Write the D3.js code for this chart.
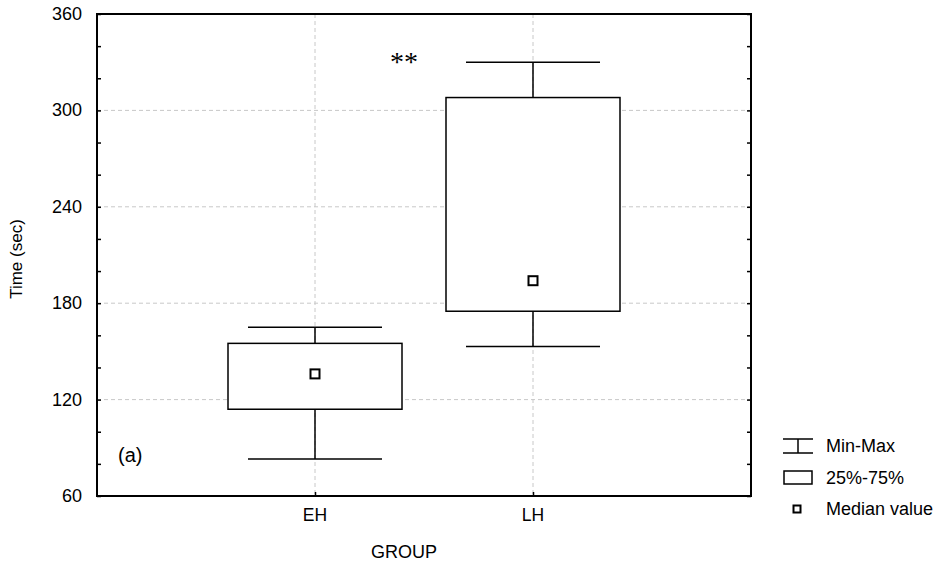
<!DOCTYPE html>
<html lang="en">
<head>
    <meta charset="UTF-8">
    <script src="https://cdnjs.cloudflare.com/ajax/libs/d3/7.8.5/d3.min.js"></script>
    <style>
        body { margin: 0; background: #fff; }
        text { font-family: "Liberation Sans", Arial, sans-serif; fill: #000; }
    </style>
</head>
<body>
    <script>
        // box plot values
        var groups = ["EH", "LH"];
        var minVals = [83, 153];
        var q1Vals = [114, 175];
        var medVals = [136, 194];
        var q3Vals = [155, 308];
        var maxVals = [165, 330];
        var yTicks = [60, 120, 180, 240, 300, 360];

        var data = groups.map(function(g, i) {
            return { group: g, min: minVals[i], q1: q1Vals[i], med: medVals[i], q3: q3Vals[i], max: maxVals[i] };
        });

        var svgwidth = 945, svgheight = 565;
        var pLeft = 97, pRight = 751, pTop = 14, pBottom = 496;

        var svg = d3.select("body").append("svg")
            .attr("width", svgwidth)
            .attr("height", svgheight);

        // positions 1 and 2 on a 0..3 scale
        var x = d3.scaleLinear().domain([0, 3]).range([pLeft, pRight]);
        var y = d3.scaleLinear().domain([60, 360]).range([pBottom, pTop]);
        var xPos = d => x(groups.indexOf(d) + 1);

        // grid
        svg.selectAll(".hgrid").data(yTicks.slice(1, -1)).enter().append("line")
            .attr("x1", pLeft).attr("x2", pRight)
            .attr("y1", d => y(d)).attr("y2", d => y(d))
            .attr("stroke", "#c8c8c8").attr("stroke-dasharray", "4,3");
        svg.selectAll(".vgrid").data(groups).enter().append("line")
            .attr("x1", d => xPos(d)).attr("x2", d => xPos(d))
            .attr("y1", pTop).attr("y2", pBottom)
            .attr("stroke", "#c8c8c8").attr("stroke-dasharray", "4,3");

        // axes with inward ticks
        var minor = d3.range(60, 361, 20);
        svg.append("g").attr("transform", "translate(" + pLeft + ",0)")
            .call(d3.axisLeft(y).tickValues(minor).tickSize(-4).tickFormat(""))
            .call(g => g.select(".domain").remove())
            .selectAll("line").attr("stroke-width", 1.5);
        svg.append("g").attr("transform", "translate(" + pRight + ",0)")
            .call(d3.axisRight(y).tickValues(minor).tickSize(-4).tickFormat(""))
            .call(g => g.select(".domain").remove())
            .selectAll("line").attr("stroke-width", 1.5);
        svg.append("g").attr("transform", "translate(0," + pBottom + ")")
            .call(d3.axisBottom(x).tickValues([1, 2]).tickSize(-4).tickFormat(""))
            .call(g => g.select(".domain").remove())
            .selectAll("line").attr("stroke-width", 1.5);

        svg.selectAll(".ylab").data(yTicks).enter().append("text")
            .attr("x", 82).attr("y", d => y(d) + 6)
            .attr("text-anchor", "end").attr("font-size", "18px")
            .text(d => d);

        svg.selectAll(".xlab").data(groups).enter().append("text")
            .attr("x", d => xPos(d)).attr("y", 521)
            .attr("text-anchor", "middle").attr("font-size", "17.5px")
            .text(d => d);

        // frame
        svg.append("rect")
            .attr("x", pLeft).attr("y", pTop)
            .attr("width", pRight - pLeft).attr("height", pBottom - pTop)
            .attr("fill", "none").attr("stroke", "#000").attr("stroke-width", 2);

        // boxes
        var boxHalf = 87, capHalf = 67;
        var box = svg.selectAll(".box").data(data).enter().append("g");
        box.append("line")
            .attr("x1", d => xPos(d.group)).attr("x2", d => xPos(d.group))
            .attr("y1", d => y(d.max)).attr("y2", d => y(d.q3))
            .attr("stroke", "#000").attr("stroke-width", 1.5);
        box.append("line")
            .attr("x1", d => xPos(d.group)).attr("x2", d => xPos(d.group))
            .attr("y1", d => y(d.q1)).attr("y2", d => y(d.min))
            .attr("stroke", "#000").attr("stroke-width", 1.5);
        box.append("line")
            .attr("x1", d => xPos(d.group) - capHalf).attr("x2", d => xPos(d.group) + capHalf)
            .attr("y1", d => y(d.max)).attr("y2", d => y(d.max))
            .attr("stroke", "#000").attr("stroke-width", 1.5);
        box.append("line")
            .attr("x1", d => xPos(d.group) - capHalf).attr("x2", d => xPos(d.group) + capHalf)
            .attr("y1", d => y(d.min)).attr("y2", d => y(d.min))
            .attr("stroke", "#000").attr("stroke-width", 1.5);
        box.append("rect")
            .attr("x", d => xPos(d.group) - boxHalf).attr("width", boxHalf * 2)
            .attr("y", d => y(d.q3)).attr("height", d => y(d.q1) - y(d.q3))
            .attr("fill", "#fff").attr("stroke", "#000").attr("stroke-width", 1.5);
        box.append("rect")
            .attr("x", d => xPos(d.group) - 4.5).attr("width", 9)
            .attr("y", d => y(d.med) - 4.5).attr("height", 9)
            .attr("fill", "#fff").attr("stroke", "#000").attr("stroke-width", 2);

        // annotations
        svg.append("text").attr("x", 404).attr("y", 71)
            .attr("text-anchor", "middle").attr("font-size", "28px")
            .style("font-family", "'Liberation Serif', 'Times New Roman', serif")
            .text("**");
        svg.append("text").attr("x", 118).attr("y", 462)
            .attr("font-size", "20px").text("(a)");

        svg.append("text")
            .attr("transform", "translate(22,259) rotate(-90)")
            .attr("text-anchor", "middle").attr("font-size", "17px")
            .text("Time (sec)");
        svg.append("text").attr("x", 404).attr("y", 558)
            .attr("text-anchor", "middle").attr("font-size", "18px")
            .text("GROUP");

        // legend
        var lg = svg.append("g");
        lg.append("line").attr("x1", 783).attr("x2", 813).attr("y1", 439).attr("y2", 439).attr("stroke", "#000").attr("stroke-width", 1.5);
        lg.append("line").attr("x1", 783).attr("x2", 813).attr("y1", 453).attr("y2", 453).attr("stroke", "#000").attr("stroke-width", 1.5);
        lg.append("line").attr("x1", 798).attr("x2", 798).attr("y1", 439).attr("y2", 453).attr("stroke", "#000").attr("stroke-width", 1.5);
        lg.append("rect").attr("x", 784).attr("y", 471).attr("width", 28).attr("height", 13)
            .attr("fill", "#fff").attr("stroke", "#000").attr("stroke-width", 1.5);
        lg.append("rect").attr("x", 793.5).attr("y", 505.5).attr("width", 7).attr("height", 7)
            .attr("fill", "#fff").attr("stroke", "#000").attr("stroke-width", 2);
        var legText = ["Min-Max", "25%-75%", "Median value"];
        var legY = [451.5, 484, 514.5];
        lg.selectAll(".lt").data(legText).enter().append("text")
            .attr("x", 826).attr("y", (d, i) => legY[i])
            .attr("font-size", "18px").text(d => d);
    </script>
</body>
</html>
